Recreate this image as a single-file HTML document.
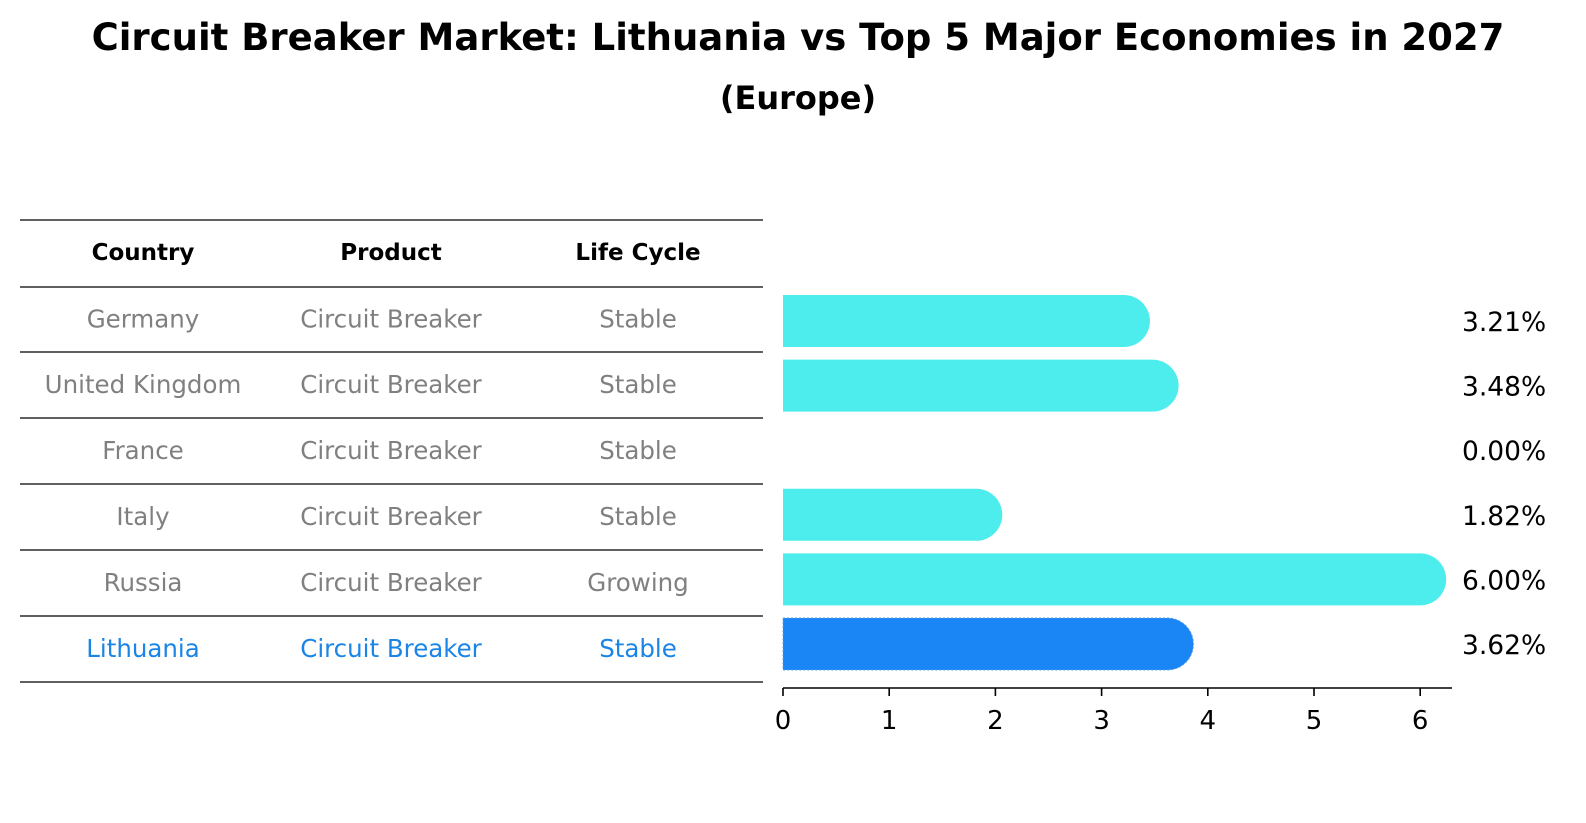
<!DOCTYPE html>
<html><head><meta charset="utf-8"><style>
body{margin:0;background:#fff;width:1586px;height:823px;overflow:hidden}
svg{display:block;font-family:"DejaVu Sans","Liberation Sans",sans-serif}
</style></head><body>
<svg id="c" width="1586" height="823" xmlns="http://www.w3.org/2000/svg">
<text x="798" y="50" text-anchor="middle" font-size="37" font-weight="bold">Circuit Breaker Market: Lithuania vs Top 5 Major Economies in 2027</text>
<text x="798" y="109" text-anchor="middle" font-size="32" font-weight="bold">(Europe)</text>
<g id="tbl"></g>
<g id="bars"></g>
</svg>
<script>
const countries=["Germany","United Kingdom","France","Italy","Russia","Lithuania"];
const products=["Circuit Breaker","Circuit Breaker","Circuit Breaker","Circuit Breaker","Circuit Breaker","Circuit Breaker"];
const lifecycles=["Stable","Stable","Stable","Stable","Growing","Stable"];
const values=[3.21,3.48,0.00,1.82,6.00,3.62];
const xTicks=[0,1,2,3,4,5,6];
const NS="http://www.w3.org/2000/svg";
function mk(t,a,p,txt){const e=document.createElementNS(NS,t);for(const k in a)e.setAttribute(k,a[k]);if(txt!==undefined)e.textContent=txt;p.appendChild(e);return e;}
const tbl=document.getElementById('tbl'),bars=document.getElementById('bars');
const lineYs=[220,287,352,418,484,550,616,682];
const colX=[143,391,638];
for(const y of lineYs){const l=mk('line',{x1:20,x2:763,y1:y,y2:y,stroke:'#000','stroke-width':1.2},tbl);

}
["Country","Product","Life Cycle"].forEach((h,i)=>{const t=mk('text',{x:colX[i],y:260,'text-anchor':'middle','font-size':23,'font-weight':'bold'},tbl,h);

});
const rowY=i=>(lineYs[i+1]+lineYs[i+2])/2;
countries.forEach((c,i)=>{const col=c==="Lithuania"?'#1a85e6':'#808080';
[c,products[i],lifecycles[i]].forEach((v,j)=>{const t=mk('text',{x:colX[j],y:rowY(i)+8,'text-anchor':'middle','font-size':24.5,fill:col},tbl,v);

});});
const x0=783,sc=106.2;const X=v=>x0+v*sc;
const barY=i=>321+i*64.6;const bh=52,r=26;
values.forEach((v,i)=>{if(v<=0)return;const y=barY(i)-bh/2,xe=X(v)+r;
const col=countries[i]==="Lithuania"?'#1a85f5':'#4deded';
const p=mk('path',{d:`M${x0},${y}H${xe-r}A${r},${r} 0 0 1 ${xe-r},${y+bh}H${x0}Z`,fill:col},bars);
if(countries[i]==="Lithuania"){p.setAttribute('stroke','#5aa0e8');p.setAttribute('stroke-dasharray','2,2');}

});
values.forEach((v,i)=>{const t=mk('text',{x:1462,y:barY(i)+10,'font-size':26.5},bars,v.toFixed(2)+'%');

});
const ax=mk('line',{x1:x0,x2:1452,y1:688,y2:688,stroke:'#000','stroke-width':1.6},bars);


xTicks.forEach(t=>{const l=mk('line',{x1:X(t),x2:X(t),y1:688,y2:696,stroke:'#000','stroke-width':1.6},bars);


const tx=mk('text',{x:X(t),y:729,'text-anchor':'middle','font-size':26},bars,String(t));

});
</script>
</body></html>
